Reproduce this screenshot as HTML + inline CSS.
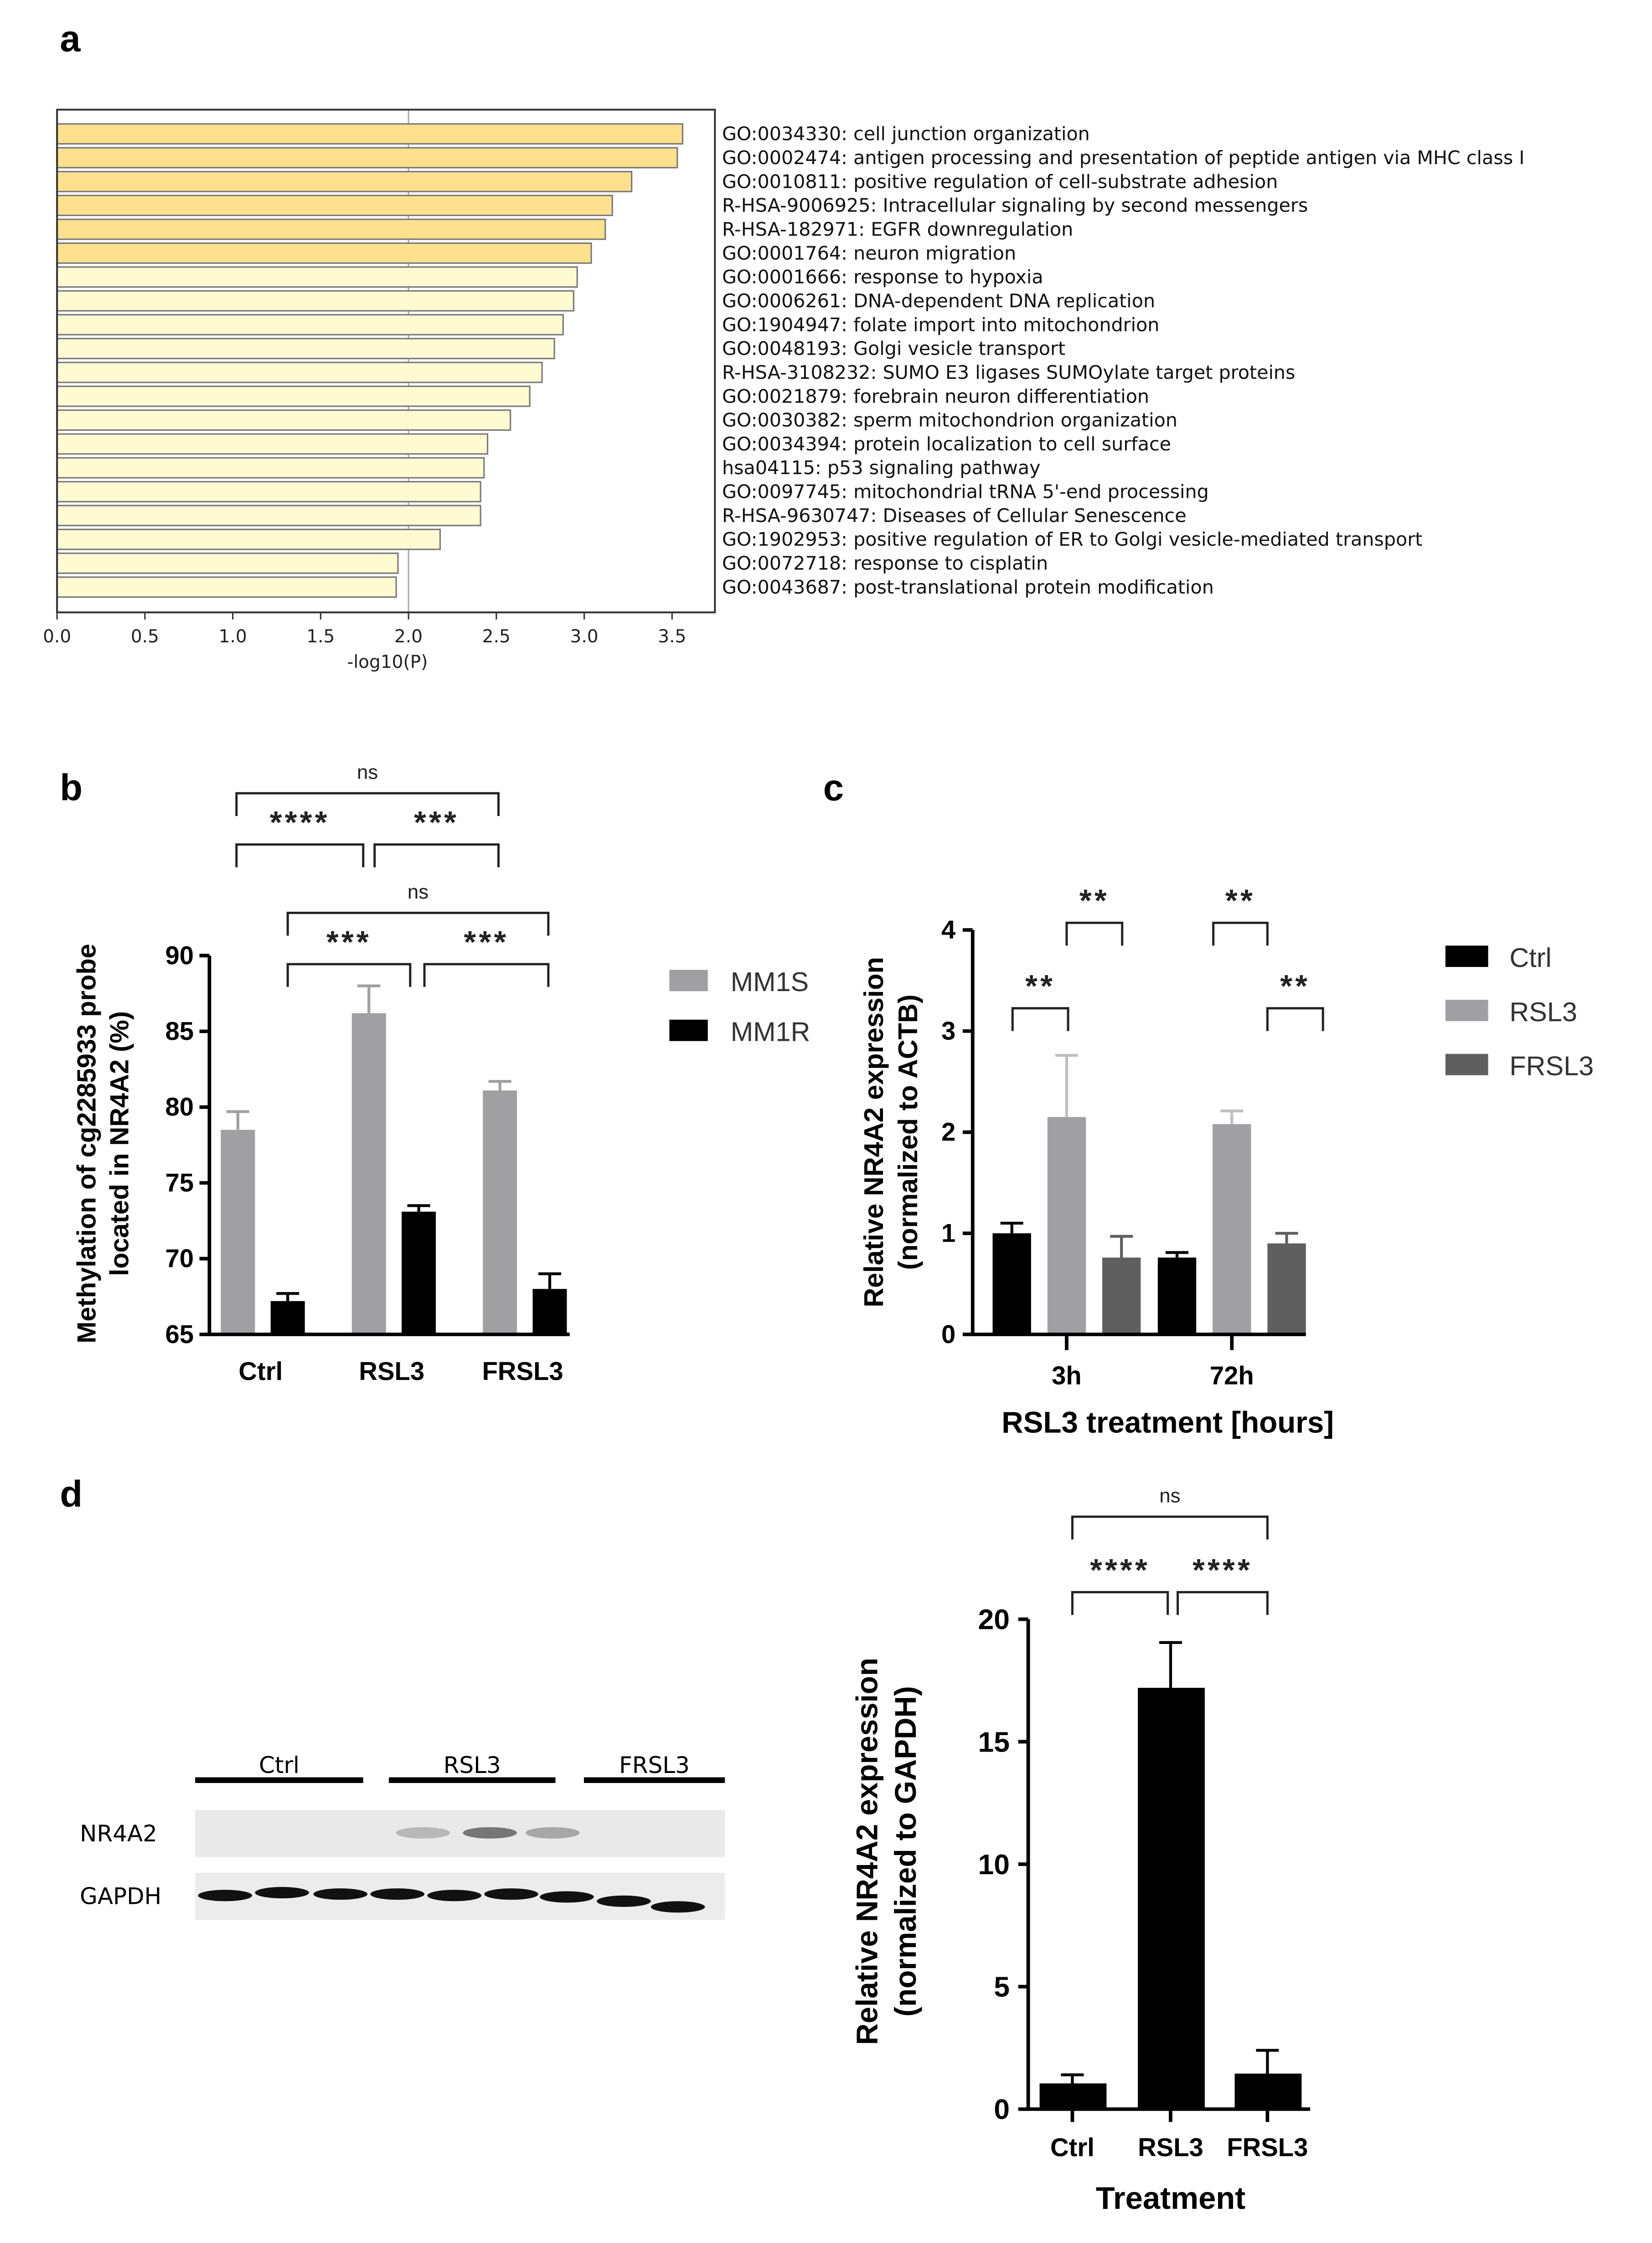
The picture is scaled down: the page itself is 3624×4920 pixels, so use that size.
<!DOCTYPE html>
<html><head><meta charset="utf-8"><style>
html,body{margin:0;padding:0;background:#fff;}
svg{display:block;}
text{font-family:"Liberation Sans",Arial,sans-serif;}
.dv{font-family:"DejaVu Sans","Liberation Sans",sans-serif;}
</style></head><body>
<svg id="fig" width="3624" height="4920" viewBox="0 0 1160 1575" xmlns="http://www.w3.org/2000/svg">
<rect width="1160" height="1575" fill="#fff"/>
<g id="pa"></g>
<g id="pb"></g>
<g id="pc"></g>
<g id="pd"></g>
</svg>
<script>
// Panel a data
const aTerms = ["GO:0034330: cell junction organization","GO:0002474: antigen processing and presentation of peptide antigen via MHC class I","GO:0010811: positive regulation of cell-substrate adhesion","R-HSA-9006925: Intracellular signaling by second messengers","R-HSA-182971: EGFR downregulation","GO:0001764: neuron migration","GO:0001666: response to hypoxia","GO:0006261: DNA-dependent DNA replication","GO:1904947: folate import into mitochondrion","GO:0048193: Golgi vesicle transport","R-HSA-3108232: SUMO E3 ligases SUMOylate target proteins","GO:0021879: forebrain neuron differentiation","GO:0030382: sperm mitochondrion organization","GO:0034394: protein localization to cell surface","hsa04115: p53 signaling pathway","GO:0097745: mitochondrial tRNA 5'-end processing","R-HSA-9630747: Diseases of Cellular Senescence","GO:1902953: positive regulation of ER to Golgi vesicle-mediated transport","GO:0072718: response to cisplatin","GO:0043687: post-translational protein modification"];
const aValues = [3.56,3.53,3.27,3.16,3.12,3.04,2.96,2.94,2.88,2.83,2.76,2.69,2.58,2.45,2.43,2.41,2.41,2.18,1.94,1.93];
const aTicks = [0,0.5,1.0,1.5,2.0,2.5,3.0,3.5];
// Panel b data
const bGroups = ["Ctrl","RSL3","FRSL3"];
const bMM1S = [78.5,86.2,81.1];
const bMM1Serr = [1.2,1.8,0.6];
const bMM1R = [67.2,73.1,68.0];
const bMM1Rerr = [0.5,0.4,1.0];
const bTicks = [65,70,75,80,85,90];
// Panel c data
const cGroups = ["3h","72h"];
const cCtrl = [1.0,0.76];
const cRSL3 = [2.15,2.08];
const cFRSL3 = [0.76,0.9];
const cCtrlErr = [0.1,0.05];
const cRSL3Err = [0.61,0.13];
const cFRSL3Err = [0.21,0.1];
const cTicks = [0,1,2,3,4];
// Panel d data
const dGroups = ["Ctrl","RSL3","FRSL3"];
const dValues = [1.05,17.2,1.45];
const dErr = [0.35,1.85,0.95];
const dTicks = [0,5,10,15,20];

const NS="http://www.w3.org/2000/svg";
function mk(parent,tag,attrs,txt){const e=document.createElementNS(NS,tag);for(const k in attrs)e.setAttribute(k,attrs[k]);if(txt!==undefined)e.textContent=txt;parent.appendChild(e);return e;}

const fig=document.getElementById('fig');
[["a",42,36],["b",42,562],["c",578,562],["d",42,1058]].forEach(l=>{
 const t=mk(fig,'text',{x:l[1],y:l[2],'font-size':26,'font-weight':'bold'},l[0]);
 
 
});

// ---------- Panel a ----------
(function(){
 const g=document.getElementById('pa');
 const X=v=>40+v*123.4;
 const y0=87, step=16.75, bh=14;
 mk(g,'line',{x1:X(2),x2:X(2),y1:77,y2:430,stroke:'#aaa','stroke-width':1});
 aValues.forEach((v,i)=>{
  const r=mk(g,'rect',{x:40,y:y0+i*step,width:X(v)-40,height:bh,fill:i<6?'#fde08e':'#fefbd2',stroke:'#777','stroke-width':1});
  
  
  const t=mk(g,'text',{x:507,y:y0+i*step+bh/2+4.5,'font-size':13.2,fill:'#111','class':'dv'},aTerms[i]);
  
  
 });
 mk(g,'rect',{x:40,y:77,width:462,height:353,fill:'none',stroke:'#333','stroke-width':1.3});
 aTicks.forEach(v=>{
  mk(g,'line',{x1:X(v),x2:X(v),y1:430,y2:435,stroke:'#333'});
  const t=mk(g,'text',{x:X(v),y:451,'font-size':12.5,'text-anchor':'middle',fill:'#222','class':'dv'},v.toFixed(1));
  
  
 });
 const xt=mk(g,'text',{x:272,y:469,'font-size':12.5,'text-anchor':'middle',fill:'#222','class':'dv'},'-log10(P)');
 
 
})();

function bracket(g,x1,x2,y,label,big,name){
 mk(g,'path',{d:`M${x1},${y+16}V${y}H${x2}V${y+16}`,fill:'none',stroke:'#222','stroke-width':1.6});
 const t=mk(g,'text',{x:(x1+x2)/2,y:big?y-8:y-10,'font-size':big?22:14,'font-weight':big?'bold':'normal','text-anchor':'middle',fill:'#222','letter-spacing':big?2:0},label);
 
 
}
function errbar(g,cx,top,base,color){
 mk(g,'line',{x1:cx,x2:cx,y1:top,y2:base,stroke:color,'stroke-width':2});
 mk(g,'line',{x1:cx-8,x2:cx+8,y1:top,y2:top,stroke:color,'stroke-width':2});
}

// ---------- Panel b ----------
(function(){
 const g=document.getElementById('pb');
 const Y=v=>937-(v-65)*10.64;
 const centers=[183,275,367];
 const bw=24;
 bGroups.forEach((name,i)=>{
  const c=centers[i];
  const s=mk(g,'rect',{x:c-28,y:Y(bMM1S[i]),width:bw,height:937-Y(bMM1S[i]),fill:'#a0a0a2'});
  
  
  errbar(g,c-16,Y(bMM1S[i]+bMM1Serr[i]),Y(bMM1S[i]),'#a0a0a2');
  const r=mk(g,'rect',{x:c+7,y:Y(bMM1R[i]),width:bw,height:937-Y(bMM1R[i]),fill:'#000'});
  
  
  errbar(g,c+19,Y(bMM1R[i]+bMM1Rerr[i]),Y(bMM1R[i]),'#000');
  const t=mk(g,'text',{x:c,y:969,'font-size':18,'font-weight':'bold','text-anchor':'middle'},name);
  
  
 });
 mk(g,'path',{d:`M147,${Y(90)}V937H400`,fill:'none',stroke:'#000','stroke-width':2.5});
 bTicks.forEach(v=>{
  mk(g,'line',{x1:140,x2:147,y1:Y(v),y2:Y(v),stroke:'#000','stroke-width':2.5});
  const t=mk(g,'text',{x:136,y:Y(v)+6,'font-size':18,'font-weight':'bold','text-anchor':'end'},v);
  
  
 });
 const yt=mk(g,'text',{transform:'translate(67,803) rotate(-90)','font-size':18.5,'font-weight':'bold','text-anchor':'middle'},'Methylation of cg2285933 probe');
 
 
 const yt2=mk(g,'text',{transform:'translate(90,803) rotate(-90)','font-size':18.5,'font-weight':'bold','text-anchor':'middle'},'located in NR4A2 (%)');
 
 
 bracket(g,166,350,557,'ns',false,'sig-ns-1');
 bracket(g,166,255,593,'****',true,'sig-1');
 bracket(g,263,350,593,'***',true,'sig-2');
 bracket(g,202,385,641,'ns',false,'sig-ns-2');
 bracket(g,202,288,677,'***',true,'sig-3');
 bracket(g,298,385,677,'***',true,'sig-4');
 [["MM1S",'#a0a0a2',689],["MM1R",'#000',724]].forEach(l=>{
  const r=mk(g,'rect',{x:470,y:l[2]-8,width:27,height:15,fill:l[1]});
  
  
  const t=mk(g,'text',{x:513,y:l[2]+7,'font-size':19,fill:'#333'},l[0]);
  
  
 });
})();

// ---------- Panel c ----------
(function(){
 const g=document.getElementById('pc');
 const Y=v=>937-v*71;
 const centers=[749,865];
 const series=[[cCtrl,cCtrlErr,'#000','ctrl'],[cRSL3,cRSL3Err,'#a0a0a4','rsl3'],[cFRSL3,cFRSL3Err,'#5f5f5f','frsl3']];
 cGroups.forEach((name,i)=>{
  series.forEach((s,j)=>{
   const x=centers[i]-52+j*38.5;
   const r=mk(g,'rect',{x:x,y:Y(s[0][i]),width:27,height:937-Y(s[0][i]),fill:s[2]});
   
   
   errbar(g,x+13.5,Y(s[0][i]+s[1][i]),Y(s[0][i]),s[2]==='#a0a0a4'?'#c0c0c2':s[2]);
  });
  mk(g,'line',{x1:centers[i],x2:centers[i],y1:937,y2:948,stroke:'#000','stroke-width':2.5});
  const t=mk(g,'text',{x:centers[i],y:972,'font-size':18,'font-weight':'bold','text-anchor':'middle'},name);
  
  
 });
 mk(g,'path',{d:`M683,${Y(4)}V937H917`,fill:'none',stroke:'#000','stroke-width':2.5});
 cTicks.forEach(v=>{
  mk(g,'line',{x1:676,x2:683,y1:Y(v),y2:Y(v),stroke:'#000','stroke-width':2.5});
  const t=mk(g,'text',{x:671,y:Y(v)+6,'font-size':18,'font-weight':'bold','text-anchor':'end'},v);
  
  
 });
 const xt=mk(g,'text',{x:820,y:1006,'font-size':21,'font-weight':'bold','text-anchor':'middle'},'RSL3 treatment [hours]');
 
 
 const yt=mk(g,'text',{transform:'translate(620,795) rotate(-90)','font-size':19,'font-weight':'bold','text-anchor':'middle'},'Relative NR4A2 expression');
 
 
 const yt2=mk(g,'text',{transform:'translate(644,795) rotate(-90)','font-size':19,'font-weight':'bold','text-anchor':'middle'},'(normalized to ACTB)');
 
 
 bracket(g,711,750,708,'**',true,'sig-3h-ctrl-rsl3');
 bracket(g,749,788,648,'**',true,'sig-3h-rsl3-frsl3');
 bracket(g,852,890,648,'**',true,'sig-72h-ctrl-rsl3');
 bracket(g,890,929,708,'**',true,'sig-72h-rsl3-frsl3');
 [["Ctrl",'#000',672],["RSL3",'#a0a0a4',710],["FRSL3",'#5f5f5f',748]].forEach(l=>{
  const r=mk(g,'rect',{x:1015,y:l[2]-8,width:30,height:15,fill:l[1]});
  
  
  const t=mk(g,'text',{x:1060,y:l[2]+7,'font-size':19,fill:'#333'},l[0]);
  
  
 });
})();

// ---------- Panel d ----------
(function(){
 const g=document.getElementById('pd');
 [["Ctrl",137,255],["RSL3",273,390],["FRSL3",410,509]].forEach(l=>{
  mk(g,'rect',{x:l[1],y:1248,width:l[2]-l[1],height:4,fill:'#000'});
  const t=mk(g,'text',{x:(l[1]+l[2])/2,y:1245,'font-size':16,'text-anchor':'middle','class':'dv'},l[0]);
  
  
 });
 const b1=mk(g,'rect',{x:137,y:1271,width:372,height:33,fill:'#e9e9e9'});
 
 
 [[297,0.3],[344,0.7],[388,0.4]].forEach(b=>mk(g,'ellipse',{cx:b[0],cy:1287,rx:19,ry:4,fill:'#444','fill-opacity':b[1]}));
 const b2=mk(g,'rect',{x:137,y:1315,width:372,height:33,fill:'#ececec'});
 
 
 [[158,1331],[198,1329],[239,1330],[279,1330],[319,1331],[359,1330],[398,1332],[438,1335],[476,1339]].forEach(b=>mk(g,'ellipse',{cx:b[0],cy:b[1],rx:19,ry:4,fill:'#111'}));
 const l1=mk(g,'text',{x:56,y:1293,'font-size':16,'class':'dv'},'NR4A2');
 
 
 const l2=mk(g,'text',{x:56,y:1337,'font-size':16,'class':'dv'},'GAPDH');
 
 
 const Y=v=>1481-v*17.2;
 const centers=[753,822,890];
 dGroups.forEach((name,i)=>{
  const c=centers[i];
  const r=mk(g,'rect',{x:c-23,y:Y(dValues[i]),width:47,height:1481-Y(dValues[i]),fill:'#000'});
  
  
  errbar(g,c,Y(dValues[i]+dErr[i]),Y(dValues[i]),'#000');
  mk(g,'line',{x1:c,x2:c,y1:1481,y2:1490,stroke:'#000','stroke-width':2.5});
  const t=mk(g,'text',{x:c,y:1514,'font-size':18,'font-weight':'bold','text-anchor':'middle'},name);
  
  
 });
 mk(g,'path',{d:`M722,${Y(20)}V1481H920`,fill:'none',stroke:'#000','stroke-width':2.5});
 dTicks.forEach(v=>{
  mk(g,'line',{x1:715,x2:722,y1:Y(v),y2:Y(v),stroke:'#000','stroke-width':2.5});
  const t=mk(g,'text',{x:709,y:Y(v)+7,'font-size':20,'font-weight':'bold','text-anchor':'end'},v);
  
  
 });
 const xt=mk(g,'text',{x:822,y:1551,'font-size':22,'font-weight':'bold','text-anchor':'middle'},'Treatment');
 
 
 const yt=mk(g,'text',{transform:'translate(616,1300) rotate(-90)','font-size':21,'font-weight':'bold','text-anchor':'middle'},'Relative NR4A2 expression');
 
 
 const yt2=mk(g,'text',{transform:'translate(643,1300) rotate(-90)','font-size':21,'font-weight':'bold','text-anchor':'middle'},'(normalized to GAPDH)');
 
 
 bracket(g,753,890,1065,'ns',false,'sig-ns');
 bracket(g,753,820,1118,'****',true,'sig-ctrl-rsl3');
 bracket(g,827,890,1118,'****',true,'sig-rsl3-frsl3');
})();
</script>
</body></html>
